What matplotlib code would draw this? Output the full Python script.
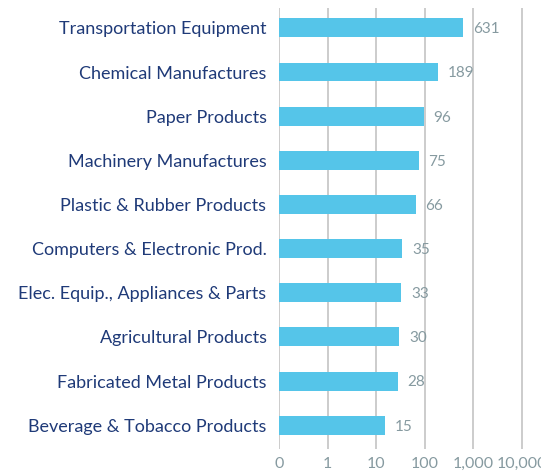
import matplotlib
matplotlib.use("Agg")
import matplotlib.pyplot as plt

categories = [
    "Transportation Equipment",
    "Chemical Manufactures",
    "Paper Products",
    "Machinery Manufactures",
    "Plastic & Rubber Products",
    "Computers & Electronic Prod.",
    "Elec. Equip., Appliances & Parts",
    "Agricultural Products",
    "Fabricated Metal Products",
    "Beverage & Tobacco Products",
]
values = [631, 189, 96, 75, 66, 35, 33, 30, 28, 15]
tick_values = [0, 1, 10, 100, 1000, 10000]
tick_labels = ["0", "1", "10", "100", "1,000", "10,000"]

plt.rcParams['font.family'] = ['Lato', 'DejaVu Sans']

fig = plt.figure(figsize=(5.41, 4.73), dpi=100)
ax = fig.add_axes([279/541, 24/473, 1 - 279/541, (449 - 8)/473])

ax.set_xscale('symlog', linthresh=1, linscale=0.9, base=10)
y = list(range(len(categories)))
bar_color = "#55c5e9"
ax.barh(y, values, height=0.43, color=bar_color, zorder=3)

for yi, v in zip(y, values):
    ax.annotate(f"{v:,}", xy=(v, yi), xytext=(7, -1), textcoords='offset points',
                va='center', ha='left', fontsize=11, color='#869aa0', zorder=4)

ax.set_xlim(0, 25000)
ax.set_ylim(9.54, -0.45)
ax.set_xticks(tick_values)
ax.set_xticklabels(tick_labels)
ax.xaxis.set_minor_locator(matplotlib.ticker.NullLocator())
ax.set_yticks(y)
ax.set_yticklabels(categories)

ax.tick_params(axis='y', length=0, pad=9, labelsize=13, labelcolor='#1f3a78')
ax.tick_params(axis='x', length=0, pad=6, labelsize=11.5, labelcolor='#869aa0')
ax.grid(axis='x', color='#c8c8c8', linewidth=1.3, zorder=0)
ax.grid(axis='y', visible=False)
for s in ax.spines.values():
    s.set_visible(False)

fig.savefig("out.png", dpi=100)
